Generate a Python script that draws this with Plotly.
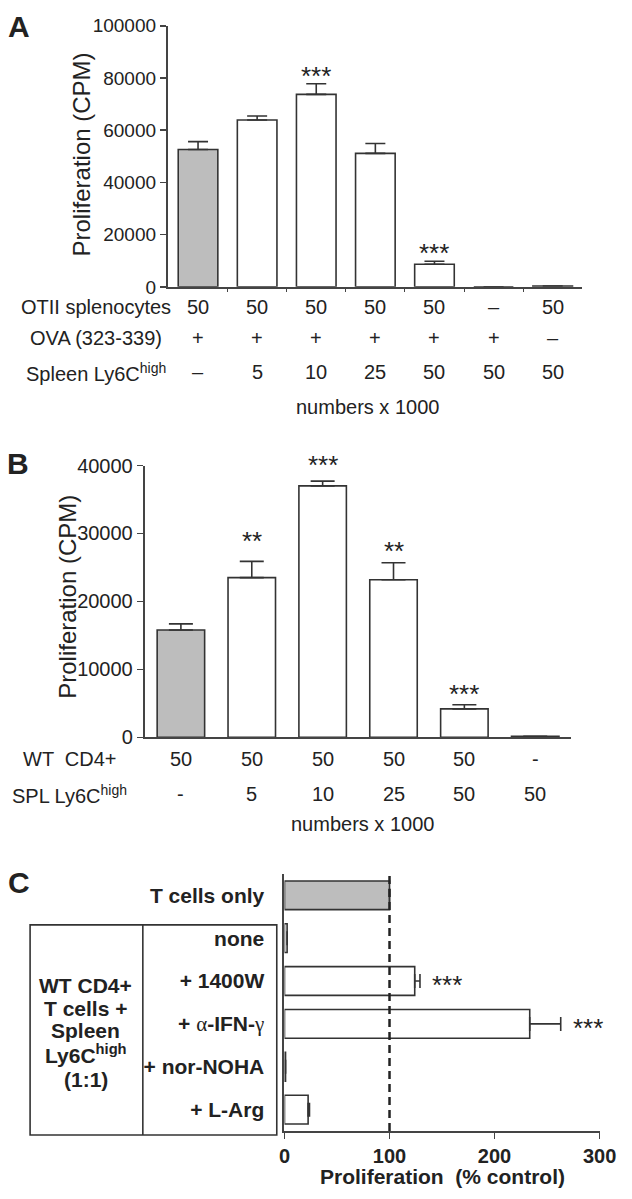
import plotly.graph_objects as go

W, H = 632, 1199

# ---------------- data ----------------
# Panel A
a_values = [52600, 63900, 73700, 51100, 8650, 0, 300]
a_errors = [3000, 1500, 4100, 3800, 1150, 0, 0]
a_otii = ["50", "50", "50", "50", "50", "–", "50"]
a_ova = ["+", "+", "+", "+", "+", "+", "–"]
a_ly6c = ["–", "5", "10", "25", "50", "50", "50"]
a_stars = ["", "", "***", "", "***", "", ""]
a_yticks = [0, 20000, 40000, 60000, 80000, 100000]

# Panel B
b_values = [15800, 23500, 37000, 23200, 4200, 150]
b_errors = [900, 2400, 700, 2500, 600, 0]
b_wt = ["50", "50", "50", "50", "50", "-"]
b_spl = ["-", "5", "10", "25", "50", "50"]
b_stars = ["", "**", "***", "**", "***", ""]
b_yticks = [0, 10000, 20000, 30000, 40000]

# Panel C
c_labels = ["T cells only", "none", "+ 1400W", "+ α-IFN-γ", "+ nor-NOHA", "+ L-Arg"]
c_values = [100, 2.5, 124, 233.5, 1, 22.5]
c_errors = [0, 0, 5, 29.5, 0, 1.3]
c_stars = ["", "", "***", "***", "", ""]
c_xticks = [0, 100, 200, 300]
c_ref = 100
c_box_lines = ["WT CD4+", "T cells +", "Spleen", "Ly6C<sup>high</sup>", "(1:1)"]

# ---------------- style ----------------
FONT = "Liberation Sans, Arial, sans-serif"
TXT = "#222222"
LINE = "#333333"
GRAY = "#bdbdbd"

def py(p):
    return 1 - p / H

def px(p):
    return p / W

fills_a = [GRAY] + ["white"] * (len(a_values) - 1)
fills_b = [GRAY] + ["white"] * (len(b_values) - 1)
fills_c = [GRAY] + ["white"] * (len(c_values) - 1)

fig = go.Figure()

fig.add_trace(go.Bar(
    x=list(range(len(a_values))), y=a_values, width=0.67,
    marker=dict(color=fills_a, line=dict(color=LINE, width=1.6)),
    error_y=dict(type="data", array=a_errors, arrayminus=[0] * len(a_errors),
                 symmetric=False, color=LINE, thickness=1.6, width=10),
    xaxis="x", yaxis="y", showlegend=False, hoverinfo="skip"))

fig.add_trace(go.Bar(
    x=list(range(len(b_values))), y=b_values, width=0.67,
    marker=dict(color=fills_b, line=dict(color=LINE, width=1.6)),
    error_y=dict(type="data", array=b_errors, arrayminus=[0] * len(b_errors),
                 symmetric=False, color=LINE, thickness=1.6, width=12),
    xaxis="x2", yaxis="y2", showlegend=False, hoverinfo="skip"))

fig.add_trace(go.Bar(
    y=list(range(len(c_values))), x=c_values, width=0.67, orientation="h",
    marker=dict(color=fills_c, line=dict(color=LINE, width=1.6)),
    error_x=dict(type="data", array=c_errors, arrayminus=[0] * len(c_errors),
                 symmetric=False, color=LINE, thickness=1.6, width=7),
    xaxis="x3", yaxis="y3", showlegend=False, hoverinfo="skip"))

axis_common = dict(showgrid=False, zeroline=False, showline=True,
                   linecolor="#444444", linewidth=2)

SERIF = "<span style='font-family:Liberation Serif;font-weight:normal'>{}</span>"
c_ticktext = [lab.replace("α", SERIF.format("α")).replace("γ", SERIF.format("γ"))
              for lab in c_labels]

fig.update_layout(
    width=W, height=H, margin=dict(l=0, r=0, t=0, b=0),
    paper_bgcolor="white", plot_bgcolor="white",
    font=dict(family=FONT, color=TXT),
    bargap=0,
    xaxis=dict(domain=[px(168), px(598)], range=[-0.51, 6.5], anchor="y",
               tickvals=[i + 0.5 for i in range(len(a_values) - 1)],
               showticklabels=False, ticks="outside", ticklen=3,
               tickcolor="#444444", **axis_common),
    yaxis=dict(domain=[py(281), py(15)], range=[0, 100000], anchor="x",
               tickvals=a_yticks, tickformat="d", ticks="outside", ticklen=6,
               tickwidth=1.6, tickcolor="#444444",
               tickfont=dict(size=19, color=TXT), **axis_common),
    xaxis2=dict(domain=[px(144), px(586)], range=[-0.51, 5.5], anchor="y2",
                showticklabels=False, ticks="", **axis_common),
    yaxis2=dict(domain=[py(740), py(463)], range=[0, 40000], anchor="x2",
                tickvals=b_yticks, tickformat="d", ticks="outside", ticklen=6,
                tickwidth=1.6, tickcolor="#444444",
                tickfont=dict(size=20, color=TXT), **axis_common),
    xaxis3=dict(domain=[px(289), px(616)], range=[0, 300], anchor="y3",
                tickvals=c_xticks, ticks="outside", ticklen=6, tickwidth=1.6,
                tickcolor="#444444", ticklabeloverflow="allow",
                tickfont=dict(size=20, color=TXT, weight="bold"),
                **axis_common),
    yaxis3=dict(domain=[py(1141), py(879)], range=[5.5, -0.5], anchor="x3",
                tickvals=list(range(len(c_labels))), ticktext=c_ticktext,
                ticks="", ticklabelstandoff=14,
                tickfont=dict(size=21, color=TXT, weight="bold"),
                **axis_common),
)

ann = []

def add_text(text, x, y, xref="paper", yref="paper", size=20, bold=False,
             xanchor="center", yanchor="middle", angle=0, **kw):
    f = dict(size=size, color=TXT, family=FONT)
    if bold:
        f["weight"] = "bold"
    ann.append(dict(text=text, x=x, y=y, xref=xref, yref=yref, showarrow=False,
                    font=f, xanchor=xanchor, yanchor=yanchor, textangle=angle, **kw))

# Panel letters
add_text("A", px(14), py(16), size=30, bold=True)
add_text("B", px(12), py(461), size=30, bold=True)
add_text("C", px(14), py(888), size=30, bold=True)

# Axis titles
add_text("Proliferation (CPM)", px(78), py(146), size=24, angle=-90)
add_text("Proliferation (CPM)", px(63), py(597), size=24, angle=-90)
add_text("Proliferation  (% control)", px(453), py(1187), size=21, bold=True)

# Panel A table
a_rows = [("OTII splenocytes", a_otii, 302), ("OVA (323-339)", a_ova, 333),
          ("Spleen Ly6C<sup>high</sup>", a_ly6c, 368)]
for label, vals, yy in a_rows:
    add_text(label, px(93), py(yy), size=20)
    for i, v in enumerate(vals):
        add_text(v, i, py(yy), xref="x", size=20)
add_text("numbers x 1000", px(375), py(403), size=20)

# Panel B table
b_rows = [("WT  CD4+", b_wt, 762), ("SPL Ly6C<sup>high</sup>", b_spl, 798)]
for label, vals, yy in b_rows:
    add_text(label, px(66), py(yy), size=20)
    for i, v in enumerate(vals):
        add_text(v, i, py(yy), xref="x2", size=20)
add_text("numbers x 1000", px(370), py(828), size=20)

# Significance stars
a_star_gap = [0, 0, 8, 0, 8, 0, 0]
for i, s in enumerate(a_stars):
    if s:
        add_text(s, i, a_values[i] + a_errors[i], xref="x", yref="y", size=26,
                 yanchor="bottom", yshift=a_star_gap[i] - 17)
b_star_gap = [0, 20, 16, 12, 11, 0]
for i, s in enumerate(b_stars):
    if s:
        add_text(s, i, b_values[i] + b_errors[i], xref="x2", yref="y2", size=26,
                 yanchor="bottom", yshift=b_star_gap[i] - 17)
for i, s in enumerate(c_stars):
    if s:
        add_text(s, c_values[i] + c_errors[i], i, xref="x3", yref="y3", size=26,
                 xanchor="left", xshift=10, yshift=-4)

# Panel C box text (one annotation per line)
box_line_y = [993, 1016, 1039, 1063, 1088]
for t, yy in zip(c_box_lines, box_line_y):
    add_text(t, px(83), py(yy), size=21, bold=True)

fig.update_layout(annotations=ann)

shapes = [
    dict(type="rect", xref="paper", yref="paper", x0=px(25), x1=px(281),
         y0=py(1145), y1=py(931), line=dict(color=LINE, width=1.6)),
    dict(type="line", xref="paper", yref="paper", x0=px(142), x1=px(142),
         y0=py(1145), y1=py(931), line=dict(color=LINE, width=1.6)),
    dict(type="line", xref="x3", yref="y3 domain", x0=c_ref, x1=c_ref, y0=0, y1=1,
         line=dict(color="#222222", width=2.5, dash="8px,5px")),
]
fig.update_layout(shapes=shapes)

fig.write_html("out.html",
               config={"displayModeBar": False, "staticPlot": True},
               post_script="document.body.style.margin='0px';"
                           "document.body.style.overflow='hidden';")
